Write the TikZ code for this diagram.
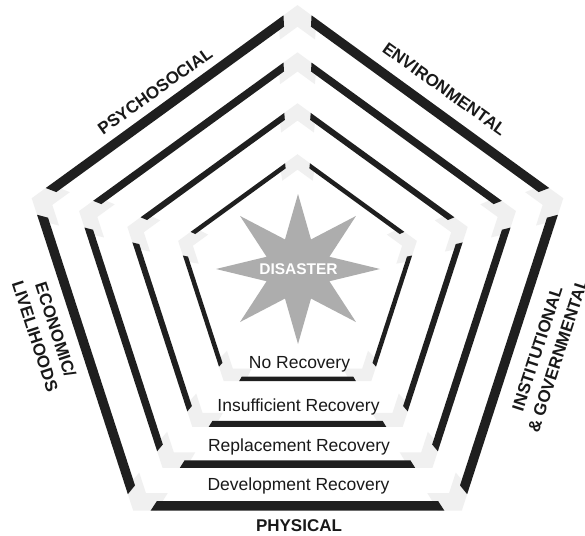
\documentclass[tikz,border=0pt]{standalone}
\usepackage{fontspec}
\setmainfont{Liberation Sans}
\tikzset{
  bandfill/.style={fill=black!6},
  barfill/.style={fill=black!88},
  starfill/.style={fill=black!32},
  cat/.style={font=\bfseries\fontsize{17}{21.5}\selectfont, inner sep=0pt, text=black!90},
  rec/.style={font=\fontsize{17.5}{20}\selectfont, inner sep=0pt, text=black!90},
}
\newcommand\pcornR[4]{% #1 R, #2 cy, #3 w, #4 gap : faint corner pieces
  \pgfmathsetmacro\rO{#1+#3/1.618}
  \pgfmathsetmacro\rG{\rO-(#3+8)/0.809}
  \pgfmathsetmacro\sp{(#4+6)/(1.1756*#1)}
  \foreach \k in {0,...,4}{
    \pgfmathsetmacro\aV{90+72*\k}
    \pgfmathsetmacro\aN{162+72*\k}
    \pgfmathsetmacro\aP{18+72*\k}
    \fill[bandfill]
      ({297.5+\rO*((1-\sp)*cos(\aV)+\sp*cos(\aP))},{#2-\rO*((1-\sp)*sin(\aV)+\sp*sin(\aP))})
      -- ({297.5+\rO*cos(\aV)},{#2-\rO*sin(\aV)})
      -- ({297.5+\rO*((1-\sp)*cos(\aV)+\sp*cos(\aN))},{#2-\rO*((1-\sp)*sin(\aV)+\sp*sin(\aN))})
      -- ({297.5+\rG*((1-\sp)*cos(\aV)+\sp*cos(\aN))},{#2-\rG*((1-\sp)*sin(\aV)+\sp*sin(\aN))})
      -- ({297.5+\rG*cos(\aV)},{#2-\rG*sin(\aV)})
      -- ({297.5+\rG*((1-\sp)*cos(\aV)+\sp*cos(\aP))},{#2-\rG*((1-\sp)*sin(\aV)+\sp*sin(\aP))})
      -- cycle;
  }
}
\newcommand\pbarsR[4]{% #1 R, #2 cy, #3 w, #4 gap
  \pgfmathsetmacro\rO{#1+#3/1.618}
  \pgfmathsetmacro\rI{#1-#3/1.618}
  \pgfmathsetmacro\gp{#4/(1.1756*#1)}
  \foreach \k in {0,...,4}{
    \pgfmathsetmacro\aA{90+72*\k}
    \pgfmathsetmacro\aB{162+72*\k}
    \fill[barfill]
      ({297.5+\rO*((1-\gp)*cos(\aA)+\gp*cos(\aB))},{#2-\rO*((1-\gp)*sin(\aA)+\gp*sin(\aB))})
      -- ({297.5+\rO*(\gp*cos(\aA)+(1-\gp)*cos(\aB))},{#2-\rO*(\gp*sin(\aA)+(1-\gp)*sin(\aB))})
      -- ({297.5+\rI*(\gp*cos(\aA)+(1-\gp)*cos(\aB))},{#2-\rI*(\gp*sin(\aA)+(1-\gp)*sin(\aB))})
      -- ({297.5+\rI*((1-\gp)*cos(\aA)+\gp*cos(\aB))},{#2-\rI*((1-\gp)*sin(\aA)+\gp*sin(\aB))})
      -- cycle;
  }
}
\begin{document}
\begin{tikzpicture}[x=1pt,y=-1pt]
\useasboundingbox (0,0) rectangle (585,535);
\fill[white] (0,0) rectangle (585,535);
% faint corner pieces
\pcornR{273.6}{284.6}{9.5}{17}
\pcornR{225}{282}{7.5}{17}
\pcornR{175.2}{282.2}{6}{16}
\pcornR{122.7}{279.7}{4.5}{15}
% black bars
\pbarsR{273.6}{284.6}{9.5}{17}
\pbarsR{225}{282}{7.5}{17}
\pbarsR{175.2}{282.2}{6}{16}
\pbarsR{122.7}{279.7}{4.5}{15}
% star
\fill[starfill] (380,269) \foreach \i in {1,...,15}{ -- ({298+(82-48*isodd(\i))*cos(22.5*\i)},{269-(75-43*isodd(\i))*sin(22.5*\i)}) } -- cycle;
\node[font=\bfseries\fontsize{15.5}{18}\selectfont, text=white, inner sep=0pt] (dis) at (298.5,269) {DISASTER};
% recovery labels
\node[rec, anchor=base] (nr) at (299.5,368) {No Recovery};
\node[rec, anchor=base] (ir) at (298.5,411.5) {Insufficient Recovery};
\node[rec, anchor=base] (rr) at (299,451.5) {Replacement Recovery};
\node[rec, anchor=base] (dr) at (298.5,490) {Development Recovery};
% category labels
\node[cat, anchor=base] (phys) at (299,531.5) {PHYSICAL};
\node[cat, rotate=35.5] (psy) at (155,91) {PSYCHOSOCIAL};
\node[cat, rotate=-35.5] (env) at (444.5,89) {ENVIRONMENTAL};
\node[cat, rotate=-72, align=center] (eco) at (45.5,333) {ECONOMIC/\\LIVELIHOODS};
\node[cat, rotate=72, align=center] (ins) at (547.6,352) {INSTITUTIONAL\\\& GOVERNMENTAL};
\end{tikzpicture}
\end{document}
